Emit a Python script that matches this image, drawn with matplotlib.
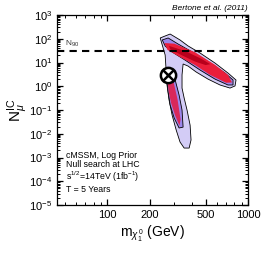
import matplotlib
matplotlib.use("Agg")
import matplotlib.pyplot as plt
from matplotlib.ticker import FixedLocator, NullFormatter

plt.rcParams['font.family'] = ['Liberation Sans', 'DejaVu Sans']
plt.rcParams['mathtext.fontset'] = 'custom'
plt.rcParams['mathtext.rm'] = 'Liberation Sans'
plt.rcParams['mathtext.it'] = 'Liberation Sans:italic'

# outer (2 sigma) credible region: neutralino mass (GeV), N_mu
outer_m = [238, 258, 280, 329, 375, 457, 583, 721, 822, 809, 745, 633, 520, 428,
           375, 346, 340, 340, 352, 369, 388, 394, 382, 352, 329, 309, 289, 275,
           266, 262, 258, 246]
outer_n = [108, 131, 158, 89, 50, 25, 9.5, 3.6, 1.83, 1.03, 0.84, 1.13, 2.0, 4.0,
           7.1, 8.65, 3.0, 0.84, 0.32, 0.1, 0.023, 0.0055, 0.0025, 0.0025, 0.0045,
           0.0144, 0.0615, 0.264, 1.13, 4.8, 20.7, 55]

# inner (1 sigma) regions, upper and lower branch
inner_up_m = [246, 271, 319, 401, 538, 687, 783, 783, 721, 583, 457, 357, 289, 258]
inner_up_n = [89, 108, 60, 28, 9.5, 3.6, 1.83, 1.13, 1.13, 2.0, 4.8, 12.7, 27.7, 49.5]
inner_lo_m = [266, 304, 324, 340, 346, 324, 299, 280, 271]
inner_lo_n = [1.51, 1.83, 0.43, 0.1, 0.019, 0.0175, 0.046, 0.163, 0.57]

# high probability cores
core_up_m = [255, 300, 421, 583, 721, 770, 700, 538, 421, 329, 268]
core_up_n = [66, 62, 27, 8.0, 3.0, 1.45, 1.4, 3.0, 7.8, 17, 34]
core_lo_m = [269, 297, 316, 332, 326, 304, 284, 274]
core_lo_n = [1.35, 1.4, 0.28, 0.04, 0.022, 0.058, 0.2, 0.55]
peak_m = [275, 360, 470, 540, 500, 420, 340, 280]
peak_n = [50, 30, 14, 8.5, 7.8, 11, 20, 36]

n90 = 30.0
best_m, best_n = 271, 3.0

xticks = [100, 200, 500, 1000]
xminor = [50, 60, 70, 80, 90, 300, 400, 600, 700, 800, 900]

info_lines = ['cMSSM, Log Prior', 'Null search at LHC',
              r's$^{1/2}$=14TeV (1fb$^{-1}$)', 'T = 5 Years']
info_y = [0.258, 0.211, 0.146, 0.080]

fig = plt.figure(figsize=(2.66, 2.57), dpi=100)
ax = fig.add_axes([0.2143, 0.2023, 0.718, 0.7393])
ax.set_xscale('log')
ax.set_yscale('log')
ax.set_xlim(44, 1000)
ax.set_ylim(1e-5, 1e3)

ax.fill(outer_m, outer_n, facecolor='#d3ccf6', edgecolor='black', linewidth=0.6)
ax.fill(inner_up_m, inner_up_n, facecolor='#9c86ea', edgecolor='black', linewidth=0.6)
ax.fill(inner_lo_m, inner_lo_n, facecolor='#9c86ea', edgecolor='black', linewidth=0.6)
ax.fill(core_up_m, core_up_n, facecolor='#ea1e3a', edgecolor='none')
ax.fill(core_lo_m, core_lo_n, facecolor='#d8285a', edgecolor='none')
ax.fill(peak_m, peak_n, facecolor='#b8001c', edgecolor='none')

ax.axhline(n90, color='black', linewidth=1.5, dashes=(3.5, 2.5))
ax.text(50, 52, r'N$_{90}$', fontsize=6, color='#333333')

ax.plot(best_m, best_n, marker='o', markersize=11, markerfacecolor='white',
        markeredgecolor='black', markeredgewidth=1.8, zorder=5)
ax.plot(best_m, best_n, marker='x', markersize=7.5, color='black',
        markeredgewidth=1.8, zorder=6)

ax.xaxis.set_major_locator(FixedLocator(xticks))
ax.xaxis.set_minor_locator(FixedLocator(xminor))
ax.set_xticklabels([str(t) for t in xticks])
ax.xaxis.set_minor_formatter(NullFormatter())
ax.tick_params(which='both', direction='in', top=True, right=True, labelsize=8)
ax.tick_params(which='major', length=4, width=0.9)
ax.tick_params(which='minor', length=2, width=0.7)
for s in ax.spines.values():
    s.set_linewidth(0.9)

ax.set_xlabel(r'm$_{\chi^{\,0}_{1}}$ (GeV)', fontsize=10, labelpad=3)
ax.set_ylabel(r'N$_{\mu}^{\rm IC}$', fontsize=11, labelpad=-1)

for line, yy in zip(info_lines, info_y):
    ax.text(0.045, yy, line, transform=ax.transAxes, fontsize=6.3, va='center')

fig.text(0.93, 0.968, 'Bertone et al. (2011)', fontsize=6, style='italic',
         ha='right', va='center')

fig.savefig('out.png', dpi=100)
